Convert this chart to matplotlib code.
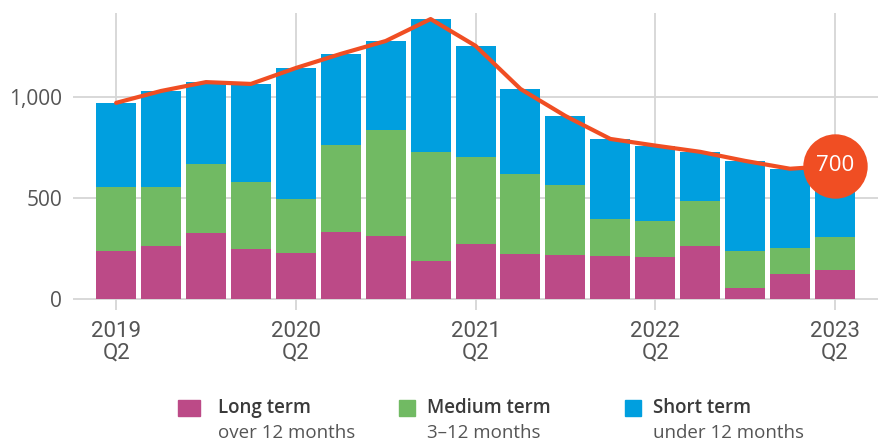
import numpy as np
import matplotlib
matplotlib.use('Agg')
import matplotlib.pyplot as plt
from matplotlib.patches import Rectangle

quarters = ['2019\nQ2', '', '', '', '2020\nQ2', '', '', '', '2021\nQ2', '', '', '',
            '2022\nQ2', '', '', '', '2023\nQ2']
long_term = [238, 263, 327, 248, 228, 332, 312, 188, 273, 223, 218, 213, 208, 263, 55, 124, 144]
medium_term = [317, 292, 344, 332, 268, 432, 526, 541, 431, 398, 347, 184, 179, 220, 183, 129, 163]
short_term = [417, 476, 404, 486, 649, 451, 441, 659, 551, 420, 342, 396, 373, 246, 446, 392, 353]
last_label = '700'

c_long = '#BC4A87'
c_med = '#71BA63'
c_short = '#009FDF'
c_line = '#F04E23'

long_a = np.array(long_term)
med_a = np.array(medium_term)
short_a = np.array(short_term)
total = long_a + med_a + short_a
x = np.arange(len(long_a))

fig = plt.figure(figsize=(8.79, 4.41), dpi=100)
ax = fig.add_axes([73/879, 1 - 310/441, 1 - 73/879, 297/441])

w = 0.89
ax.bar(x, long_a, w, color=c_long, zorder=2)
ax.bar(x, med_a, w, bottom=long_a, color=c_med, zorder=2)
ax.bar(x, short_a, w, bottom=long_a + med_a, color=c_short, zorder=2)
ax.plot(x, total, color=c_line, lw=3.0, solid_joinstyle='round', solid_capstyle='round', zorder=3)
ax.scatter([x[-1]], [total[-1]], s=2150, color=c_line, zorder=4, linewidths=0)
ax.text(x[-1], total[-1], last_label, color='white', fontsize=16, ha='center', va='center',
        family='Open Sans', zorder=5)

ax.set_xlim(-0.96, 16.98)
ax.set_ylim(-56, 1418)
ax.set_yticks([0, 500, 1000])
ax.set_yticklabels(['0', '500', '1,000'], family='Open Sans', fontsize=15, color='#555555')
ax.set_xticks([0, 4, 8, 12, 16])
ax.set_xticklabels([quarters[i] for i in [0, 4, 8, 12, 16]], family='Roboto', fontsize=16,
                   color='#555555', linespacing=1.05)
ax.tick_params(length=0)
ax.tick_params(axis='y', pad=8)
ax.tick_params(axis='x', pad=8)
ax.grid(True, color='#d6d6d6', lw=1.3, zorder=0)
ax.set_axisbelow(True)
for s in ax.spines.values():
    s.set_visible(False)

# legend drawn by hand
legend = [(c_long, 'Long term', 'over 12 months', 178, 22, 218),
          (c_med, 'Medium term', '3\u201312 months', 399, 16, 427),
          (c_short, 'Short term', 'under 12 months', 625, 16, 653)]
for col, t1, t2, px, sw, tx in legend:
    fig.patches.append(Rectangle((px/879, 1 - 416/441), sw/879, 16/441,
                                 transform=fig.transFigure, color=col))
    fig.text(tx/879, 1 - 408/441, t1, fontsize=13.5, family='Open Sans', color='#3a3a3a',
             va='center', ha='left', weight=600)
    fig.text(tx/879, 1 - 433/441, t2, fontsize=13.5, family='Open Sans', color='#555555',
             va='center', ha='left')

fig.savefig('out.png', dpi=100)
